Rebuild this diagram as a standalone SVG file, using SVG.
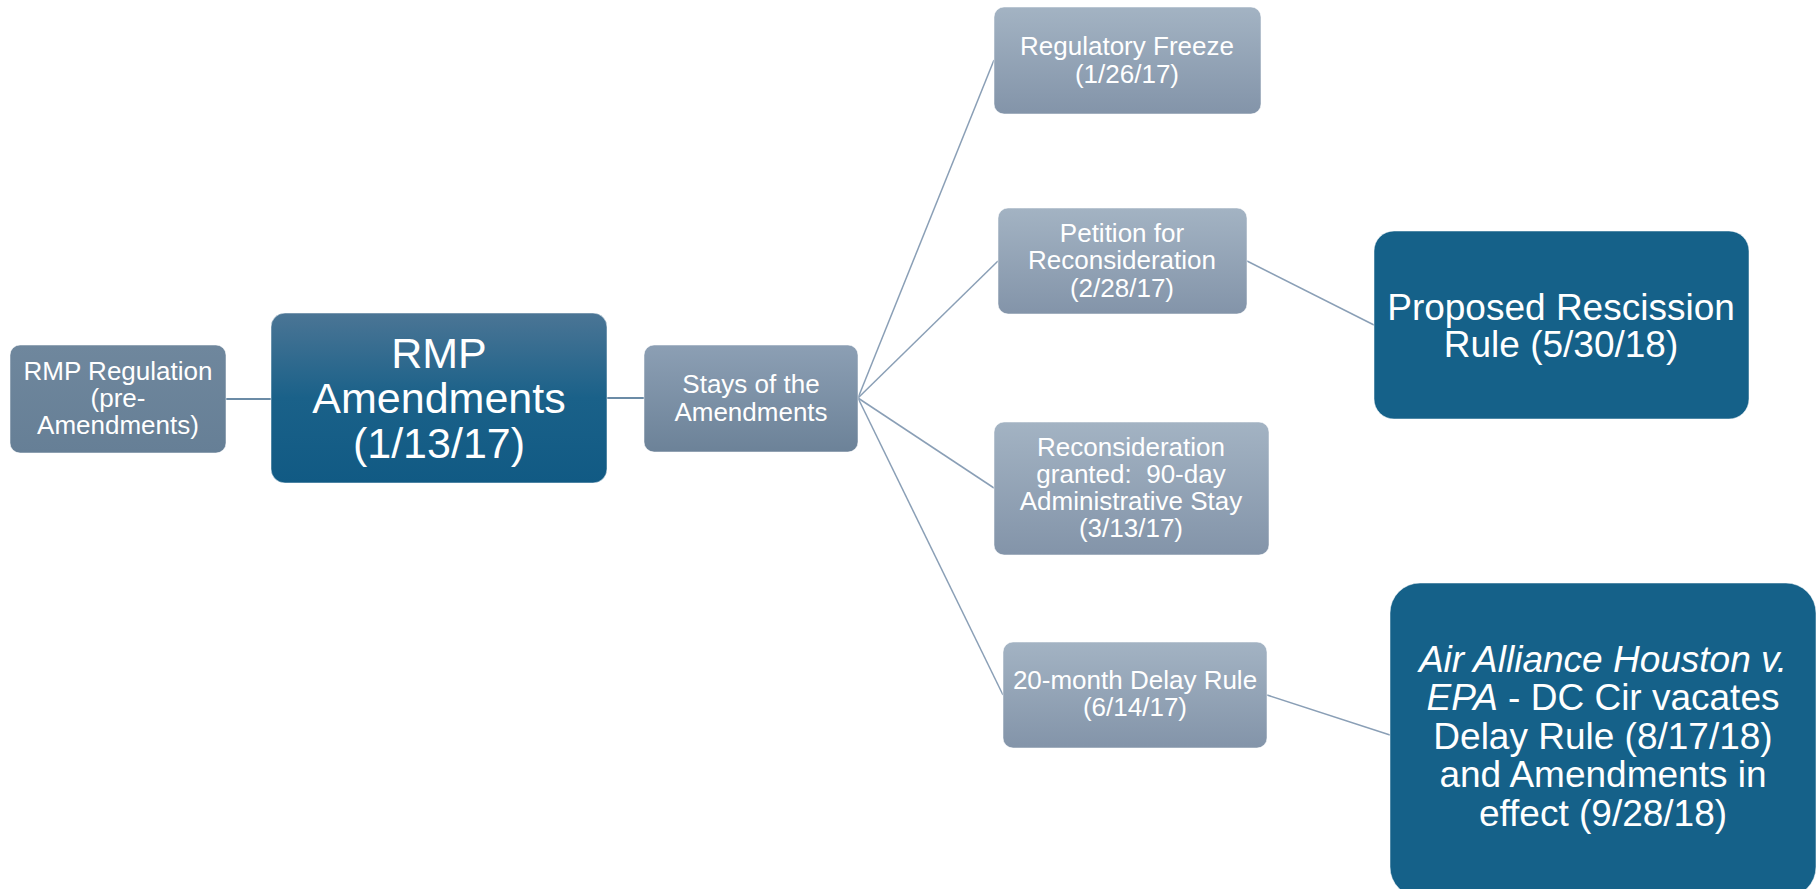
<svg xmlns="http://www.w3.org/2000/svg" width="1819" height="889" viewBox="0 0 1819 889">
<style>
  text { font-family: "Liberation Sans", Arial, sans-serif; fill: #ffffff; text-anchor: middle; }
  .s { font-size: 26px; }
  .m { font-size: 37px; }
  .l { font-size: 43px; }
  .conn { stroke: #8a9fb6; stroke-width: 1.5; fill: none; }
  .conn2 { stroke: #6b8ba6; stroke-width: 2; fill: none; }
  .box { stroke: #ffffff; stroke-opacity: 0.5; stroke-width: 1; }
</style>
<defs>
  <linearGradient id="gLight" x1="0" y1="0" x2="0" y2="1">
    <stop offset="0" stop-color="#a3b3c3"/>
    <stop offset="1" stop-color="#8394a9"/>
  </linearGradient>
  <linearGradient id="gStay" x1="0" y1="0" x2="0" y2="1">
    <stop offset="0" stop-color="#8c9fb4"/>
    <stop offset="1" stop-color="#6c8298"/>
  </linearGradient>
  <linearGradient id="gReg" x1="0" y1="0" x2="0" y2="1">
    <stop offset="0" stop-color="#6f879d"/>
    <stop offset="1" stop-color="#667f96"/>
  </linearGradient>
  <linearGradient id="gAmend" x1="0" y1="0" x2="0" y2="1">
    <stop offset="0" stop-color="#4b7595"/>
    <stop offset="0.5" stop-color="#1a6189"/>
    <stop offset="1" stop-color="#115a84"/>
  </linearGradient>
</defs>

<g id="connectors">
  <line class="conn2" x1="226" y1="399" x2="271" y2="399"/>
  <line class="conn2" x1="607" y1="398" x2="644" y2="398"/>
  <line class="conn" x1="858" y1="398" x2="994" y2="60"/>
  <line class="conn" x1="858" y1="398" x2="998" y2="261"/>
  <line class="conn" x1="858" y1="398" x2="994" y2="488"/>
  <line class="conn" x1="858" y1="398" x2="1003" y2="695"/>
  <line class="conn" x1="1247" y1="261" x2="1374" y2="325"/>
  <line class="conn" x1="1267" y1="695" x2="1390" y2="735"/>
</g>

<g id="node-rmp-regulation">
  <rect class="box" x="10" y="345" width="216" height="108" rx="10" fill="url(#gReg)"/>
  <text class="s" x="118" y="380">RMP Regulation</text>
  <text class="s" x="118" y="407">(pre-</text>
  <text class="s" x="118" y="434">Amendments)</text>
</g>

<g id="node-rmp-amendments">
  <rect class="box" x="271" y="313" width="336" height="170" rx="14" fill="url(#gAmend)"/>
  <text class="l" x="439" y="368">RMP</text>
  <text class="l" x="439" y="413">Amendments</text>
  <text class="l" x="439" y="458">(1/13/17)</text>
</g>

<g id="node-stays">
  <rect class="box" x="644" y="345" width="214" height="107" rx="10" fill="url(#gStay)"/>
  <text class="s" x="751" y="393">Stays of the</text>
  <text class="s" x="751" y="421">Amendments</text>
</g>

<g id="node-freeze">
  <rect class="box" x="994" y="7" width="267" height="107" rx="10" fill="url(#gLight)"/>
  <text class="s" x="1127" y="55">Regulatory Freeze</text>
  <text class="s" x="1127" y="83">(1/26/17)</text>
</g>

<g id="node-petition">
  <rect class="box" x="998" y="208" width="249" height="106" rx="10" fill="url(#gLight)"/>
  <text class="s" x="1122" y="242">Petition for</text>
  <text class="s" x="1122" y="269">Reconsideration</text>
  <text class="s" x="1122" y="297">(2/28/17)</text>
</g>

<g id="node-reconsideration">
  <rect class="box" x="994" y="422" width="275" height="133" rx="10" fill="url(#gLight)"/>
  <text class="s" x="1131" y="456">Reconsideration</text>
  <text class="s" x="1131" y="483" xml:space="preserve">granted:  90-day</text>
  <text class="s" x="1131" y="510">Administrative Stay</text>
  <text class="s" x="1131" y="537">(3/13/17)</text>
</g>

<g id="node-delay">
  <rect class="box" x="1003" y="642" width="264" height="106" rx="10" fill="url(#gLight)"/>
  <text class="s" x="1135" y="689">20-month Delay Rule</text>
  <text class="s" x="1135" y="716">(6/14/17)</text>
</g>

<g id="node-rescission">
  <rect class="box" x="1374" y="231" width="375" height="188" rx="20" fill="#156189"/>
  <text class="m" x="1561" y="320">Proposed Rescission</text>
  <text class="m" x="1561" y="357">Rule (5/30/18)</text>
</g>

<g id="node-air-alliance">
  <rect class="box" x="1390" y="583" width="426" height="314" rx="30" fill="#156189"/>
  <text class="m" x="1603" y="672"><tspan font-style="italic">Air Alliance Houston v.</tspan></text>
  <text class="m" x="1603" y="710"><tspan font-style="italic">EPA</tspan> - DC Cir vacates</text>
  <text class="m" x="1603" y="749">Delay Rule (8/17/18)</text>
  <text class="m" x="1603" y="787">and Amendments in</text>
  <text class="m" x="1603" y="826">effect (9/28/18)</text>
</g>
</svg>
